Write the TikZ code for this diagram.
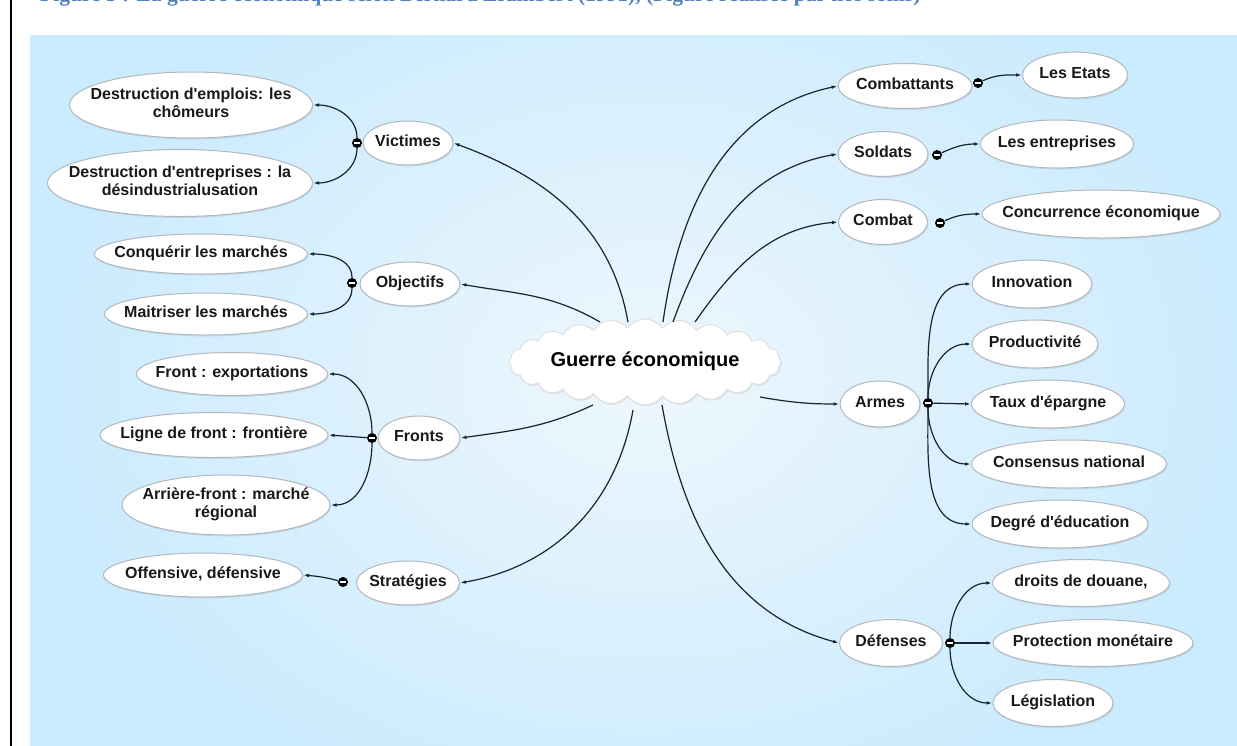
\documentclass[tikz,border=0pt]{standalone}
\usepackage{fontspec}
\setmainfont{Liberation Sans}
\newfontfamily\capfont{Liberation Serif}
\usetikzlibrary{shapes.geometric,shapes.symbols,arrows.meta,shadows,calc}
\definecolor{panel}{RGB}{203,235,254}
\definecolor{glow}{RGB}{238,247,253}
\definecolor{linec}{RGB}{22,36,52}
\definecolor{rim}{RGB}{178,184,190}
\definecolor{capblue}{RGB}{79,129,189}
\newcommand\bt[1]{\makebox[0pt]{\begin{tabular}{@{}c@{}}#1\end{tabular}}}
\newcommand\ap{\textquotesingle}
\begin{document}
\begin{tikzpicture}[x=1pt,y=1pt,
 bub/.style={ellipse,draw=rim,line width=1pt,fill=white,inner sep=0pt,
   font=\fontsize{16}{18}\selectfont\bfseries,text=black!90,
   drop shadow={opacity=0.18,shadow xshift=1pt,shadow yshift=-1.5pt}},
 hub/.style={circle,fill=black,minimum size=10pt,inner sep=0pt,
   path picture={\draw[white,line width=1.6pt] ([xshift=-2.6pt]path picture bounding box.center)--([xshift=2.6pt]path picture bounding box.center);}},
 arr/.style={draw=linec,line width=1.2pt,-{Latex[length=6pt,width=3.6pt]}},
]
\useasboundingbox (0,0) rectangle (1237,-745);
% panel
\fill[panel] (30,-35) rectangle (1260,-770);
\begin{scope}
\clip (30,-35) rectangle (1260,-770);
\shade[inner color=glow,outer color=panel] (45,70) rectangle (1245,-830);
\end{scope}
% left rule
\draw[line width=2.4pt] (11,10) -- (11,-760);
% caption (cut off at the top of the page)
\begin{scope}
\clip (0,0) rectangle (1237,-6);
\node[anchor=base west,inner sep=0pt,text=capblue,font=\capfont\bfseries\fontsize{21.5}{23}\selectfont] (cap) at (40,-1.5)
 {Figure 3 : La guerre économique selon Bernard Esambert (1991), (Figure réalisée par nos soins)};
\end{scope}

% central cloud
\node[cloud,cloud puffs=24,cloud puff arc=110,aspect=3.2,cloud ignores aspect,
  minimum width=272pt,minimum height=86pt,fill=white,draw=black!12,line width=1pt,
  inner sep=0pt,font=\fontsize{20}{22}\selectfont\bfseries,
  drop shadow={opacity=0.15,shadow xshift=1pt,shadow yshift=-1.5pt}]
  (cloud) at (645,-362) {\bt{Guerre économique}};

% left branches
\node[bub,minimum width=90pt,minimum height=44pt] (victimes) at (408,-143) {\bt{Victimes}};
\node[bub,minimum width=100pt,minimum height=44pt] (objectifs) at (410,-284) {\bt{Objectifs}};
\node[bub,minimum width=82pt,minimum height=44pt] (fronts) at (419,-438) {\bt{Fronts}};
\node[bub,minimum width=103pt,minimum height=44pt] (strategies) at (408,-583) {\bt{Stratégies}};

\node[bub,minimum width=243pt,minimum height=66pt] (emplois) at (191,-105) {\bt{Destruction d\ap emplois: les\\chômeurs}};
\node[bub,minimum width=265pt,minimum height=67pt] (entreprises) at (180,-183) {\bt{Destruction d\ap entreprises : la\\désindustrialusation}};
\node[bub,minimum width=213pt,minimum height=40pt] (conquerir) at (201,-254) {\bt{Conquérir les marchés}};
\node[bub,minimum width=203pt,minimum height=42pt] (maitriser) at (206,-314) {\bt{Maitriser les marchés}};
\node[bub,minimum width=191pt,minimum height=43pt] (frontexp) at (232,-374) {\bt{Front : exportations}};
\node[bub,minimum width=228pt,minimum height=45pt] (ligne) at (214,-435) {\bt{Ligne de front : frontière}};
\node[bub,minimum width=208pt,minimum height=60pt] (arriere) at (226,-505) {\bt{Arrière-front : marché\\régional}};
\node[bub,minimum width=199pt,minimum height=44pt] (offensive) at (203,-575) {\bt{Offensive, défensive}};

% right branches
\node[bub,minimum width=134pt,minimum height=45pt] (combattants) at (905,-86) {\bt{Combattants}};
\node[bub,minimum width=105pt,minimum height=46pt] (etats) at (1075,-75) {\bt{Les Etats}};
\node[bub,minimum width=90pt,minimum height=45pt] (soldats) at (883,-154) {\bt{Soldats}};
\node[bub,minimum width=153pt,minimum height=48pt] (lesentreprises) at (1057,-144) {\bt{Les entreprises}};
\node[bub,minimum width=89pt,minimum height=45pt] (combat) at (883,-222) {\bt{Combat}};
\node[bub,minimum width=238pt,minimum height=48pt] (concurrence) at (1101,-214) {\bt{Concurrence économique}};
\node[bub,minimum width=80pt,minimum height=46pt] (armes) at (880,-404) {\bt{Armes}};
\node[bub,minimum width=120pt,minimum height=48pt] (innovation) at (1032,-284) {\bt{Innovation}};
\node[bub,minimum width=126pt,minimum height=48pt] (productivite) at (1035,-344) {\bt{Productivité}};
\node[bub,minimum width=153pt,minimum height=48pt] (taux) at (1048,-404) {\bt{Taux d\ap épargne}};
\node[bub,minimum width=195pt,minimum height=48pt] (consensus) at (1069,-464) {\bt{Consensus national}};
\node[bub,minimum width=176pt,minimum height=48pt] (degre) at (1060,-524) {\bt{Degré d\ap éducation}};
\node[bub,minimum width=103pt,minimum height=47pt] (defenses) at (891,-643) {\bt{Défenses}};
\node[bub,minimum width=177pt,minimum height=47pt] (droits) at (1081,-583) {\bt{droits de douane,}};
\node[bub,minimum width=200pt,minimum height=47pt] (protection) at (1093,-643) {\bt{Protection monétaire}};
\node[bub,minimum width=120pt,minimum height=47pt] (legislation) at (1053,-703) {\bt{Législation}};

% hubs
\node[hub] (dv) at (357,-143) {};
\node[hub] (dob) at (352,-283) {};
\node[hub] (dfr) at (372,-438) {};
\node[hub] (dst) at (343,-582) {};
\node[hub] (dcb) at (978,-83) {};
\node[hub] (dso) at (937,-155) {};
\node[hub] (dco) at (940,-223) {};
\node[hub] (dar) at (928,-403) {};
\node[hub] (dde) at (950,-643) {};

% main connectors
\draw[arr] ($(cloud.center)+(-17,40)$) to[out=100,in=-20] (victimes.east);
\draw[arr] ($(cloud.center)+(-45,40)$) to[out=150,in=-10] (objectifs.east);
\draw[arr] ($(cloud.center)+(-52,-43)$) to[out=205,in=8] (fronts.east);
\draw[arr] ($(cloud.center)+(-12,-48)$) to[out=260,in=10] (strategies.east);
\draw[arr] ($(cloud.center)+(18,40)$) to[out=82,in=192] (combattants.west);
\draw[arr] ($(cloud.center)+(28,40)$) to[out=70,in=190] (soldats.west);
\draw[arr] ($(cloud.center)+(50,40)$) to[out=55,in=185] (combat.west);
\draw[arr] ($(cloud.center)+(115,-35)$) to[out=-10,in=180] (armes.west);
\draw[arr] ($(cloud.center)+(17,-43)$) to[out=-80,in=165] (defenses.west);

% sub connectors
\draw[arr] (dv) to[out=90,in=0] (emplois.east);
\draw[arr] (dv) to[out=-90,in=0] (entreprises.east);
\draw[arr] (dob) to[out=90,in=0] (conquerir.east);
\draw[arr] (dob) to[out=-90,in=0] (maitriser.east);
\draw[arr] (dfr) to[out=90,in=0] (frontexp.east);
\draw[arr] (dfr) -- (ligne.east);
\draw[arr] (dfr) to[out=-90,in=0] (arriere.east);
\draw[arr] (dst) to[out=165,in=-5] (offensive.east);
\draw[arr] (dcb) to[out=25,in=180] (etats.west);
\draw[arr] (dso) to[out=25,in=180] (lesentreprises.west);
\draw[arr] (dco) to[out=25,in=180] (concurrence.west);
\draw[arr] (dar) to[out=90,in=180] (innovation.west);
\draw[arr] (dar) to[out=90,in=180] (productivite.west);
\draw[arr] (dar) -- (taux.west);
\draw[arr] (dar) to[out=-90,in=180] (consensus.west);
\draw[arr] (dar) to[out=-90,in=180] (degre.west);
\draw[arr] (dde) to[out=90,in=180] (droits.west);
\draw[arr] (dde) -- (protection.west);
\draw[arr] (dde) to[out=-90,in=180] (legislation.west);
\end{tikzpicture}
\end{document}
